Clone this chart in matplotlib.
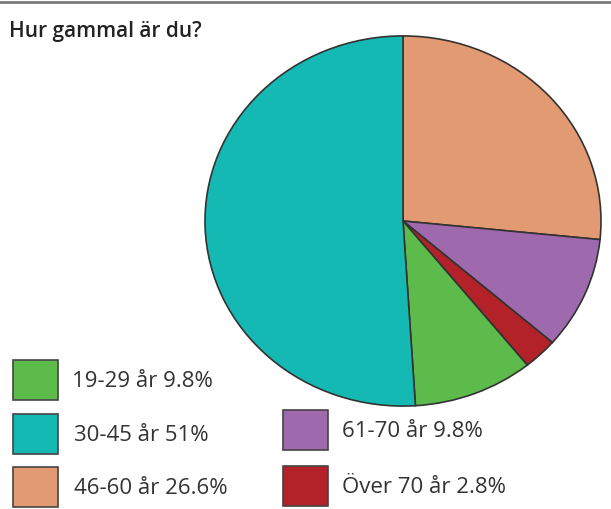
import matplotlib.pyplot as plt
from matplotlib.patches import Rectangle

# data
labels = ["19-29 år", "30-45 år", "46-60 år", "61-70 år", "Över 70 år"]
values = [9.8, 51, 26.6, 9.8, 2.8]
value_text = ["9.8%", "51%", "26.6%", "9.8%", "2.8%"]
colors = ["#5dbb4b", "#14b9b3", "#e29a73", "#9e69ad", "#b32229"]
pie_order = [2, 3, 4, 0, 1]  # clockwise from top

W, H = 611, 510
fig = plt.figure(figsize=(W / 100, H / 100), dpi=100)
plt.rcParams['font.family'] = ['Open Sans', 'DejaVu Sans']

# full-figure overlay in pixel coordinates
bg = fig.add_axes([0, 0, 1, 1])
bg.set_xlim(0, W)
bg.set_ylim(H, 0)
bg.axis("off")

# top rule
bg.plot([0, W], [3, 3], color="#7a7a7a", lw=2)

bg.text(9, 31, "Hur gammal är du?", fontsize=15, fontweight="semibold",
        color="#222222", va="center", ha="left")

# pie (slightly elliptical like the reference)
px0, py0, pw, ph = 204, 36, 398, 372
pax = fig.add_axes([px0 / W, 1 - (py0 + ph) / H, pw / W, ph / H])
pax.pie([values[i] for i in pie_order],
        colors=[colors[i] for i in pie_order],
        startangle=90, counterclock=False, radius=1,
        wedgeprops=dict(edgecolor="#333333", linewidth=1.2))
pax.set_aspect("auto")
pax.set_xlim(-1.005, 1.005)
pax.set_ylim(-1.005, 1.005)
pax.axis("off")

# legend
slots = [(13, 361, 72), (13, 415, 74), (13, 468, 74), (283, 411, 342), (283, 467, 342)]
for i, (x, y, tx) in enumerate(slots):
    bg.add_patch(Rectangle((x, y), 45, 40, facecolor=colors[i],
                           edgecolor="#444444", lw=1.2))
    bg.text(tx, y + 21, f"{labels[i]} {value_text[i]}", fontsize=16,
            color="#333333", va="center", ha="left")

fig.savefig("out.png", dpi=100)
